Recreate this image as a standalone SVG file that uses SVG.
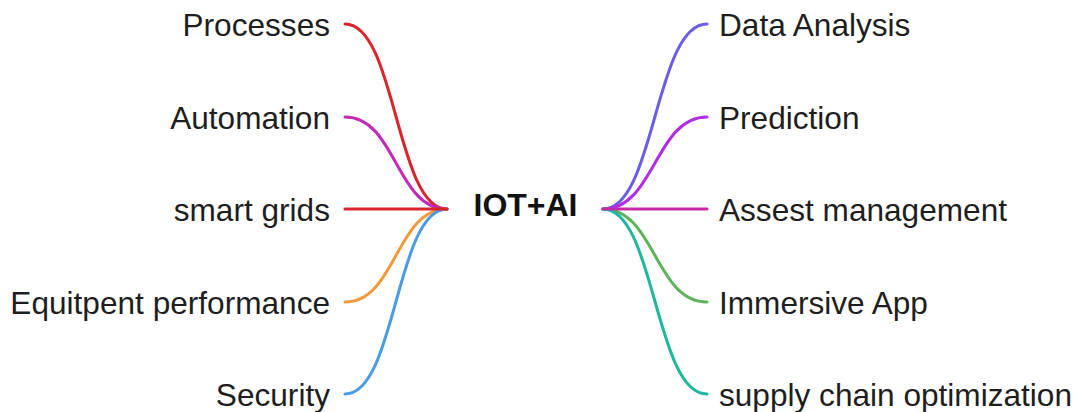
<svg xmlns="http://www.w3.org/2000/svg" width="1078" height="412" viewBox="0 0 1078 412">
<style>
.lbl{font-family:"Liberation Sans",Arial,sans-serif;font-size:31.6px;fill:#1e1e1e}
.l{text-anchor:end}
.c{font-family:"Liberation Sans",Arial,sans-serif;font-size:32px;font-weight:bold;fill:#111;text-anchor:middle}
.e{fill:none;stroke-width:3;stroke-linecap:round}
</style>
<rect width="1078" height="412" fill="#fff"/>
<g id="connectors">
<path class="e" stroke="#d8262c" d="M345,24 C396,24 396,209 447,209"/>
<path class="e" stroke="#c42ab8" d="M345,117 C396,117 396,209 447,209"/>
<path class="e" stroke="#f09a3c" d="M345,302 C396,302 396,209 447,209"/>
<path class="e" stroke="#4c9be6" d="M345,394 C396,394 396,209 447,209"/>
<path class="e" stroke="#d8262c" d="M345,209 L447,209"/>
<path class="e" stroke="#6a5ee6" d="M603,209 C655,209 655,24 707,24"/>
<path class="e" stroke="#b22ee6" d="M603,209 C655,209 655,117 707,117"/>
<path class="e" stroke="#5db35a" d="M603,209 C655,209 655,302 707,302"/>
<path class="e" stroke="#1fb89e" d="M603,209 C655,209 655,394 707,394"/>
<path class="e" stroke="#c42aa8" d="M603,209 L707,209"/>
</g>
<g id="center"><text class="c" x="525.5" y="216">IOT+AI</text></g>
<g id="processes"><text class="lbl l" x="330" y="36">Processes</text></g>
<g id="automation"><text class="lbl l" x="330" y="129">Automation</text></g>
<g id="smart-grids"><text class="lbl l" x="330" y="221">smart grids</text></g>
<g id="equitpent"><text class="lbl l" x="330" y="314">Equitpent performance</text></g>
<g id="security"><text class="lbl l" x="330" y="406">Security</text></g>
<g id="data-analysis"><text class="lbl" x="719" y="36">Data Analysis</text></g>
<g id="prediction"><text class="lbl" x="719" y="129">Prediction</text></g>
<g id="assest"><text class="lbl" x="719" y="221">Assest management</text></g>
<g id="immersive"><text class="lbl" x="719" y="314">Immersive App</text></g>
<g id="supply"><text class="lbl" x="719" y="406">supply chain optimization</text></g>
</svg>
